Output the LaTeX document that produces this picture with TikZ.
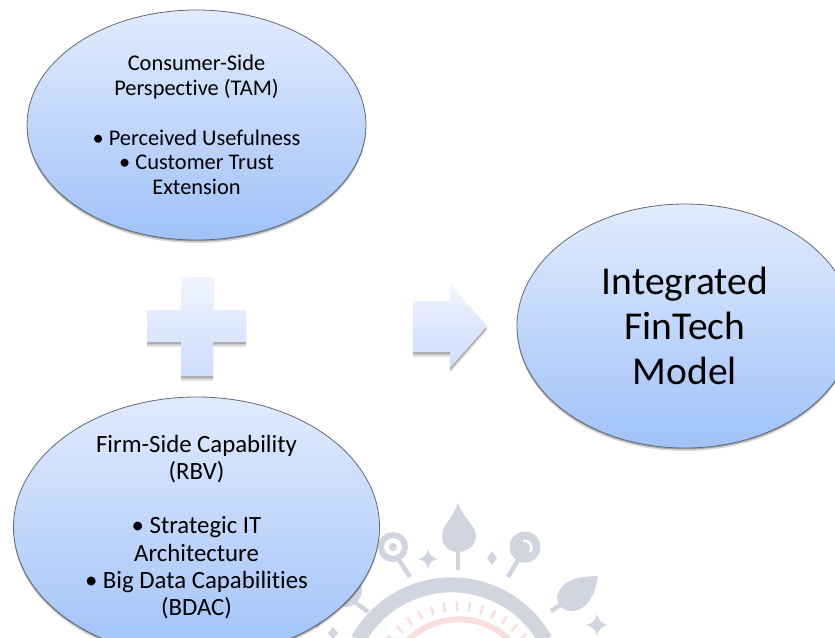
\documentclass[tikz,border=0pt]{standalone}
\usepackage{fontspec}
\setmainfont[Ligatures = NoCommon]{Carlito}
\usetikzlibrary{positioning,shapes.geometric,shadows}
\definecolor{coltop}{RGB}{226,235,253}
\definecolor{colbot}{RGB}{160,194,248}
\definecolor{colsofttop}{RGB}{240,244,254}
\definecolor{colsoftbot}{RGB}{205,221,253}
\definecolor{colline}{RGB}{95,105,120}
\definecolor{colmark}{RGB}{209,213,223}
\definecolor{colpink}{RGB}{250,222,220}
\tikzset{
  bubble/.style={ellipse, draw = colline, line width = 0.8pt, inner sep = 0pt, align = center,
    top color = coltop, bottom color = colbot, text = black,
    drop shadow = {shadow xshift = 0pt, shadow yshift = -3pt, opacity = 0.15, fill = black},
    drop shadow = {shadow xshift = 0pt, shadow yshift = -1.5pt, opacity = 0.25, fill = black}},
  softshape/.style={top color = colsofttop, bottom color = colsoftbot,
    drop shadow = {shadow xshift = 0pt, shadow yshift = -5pt, opacity = 0.08, fill = black},
    drop shadow = {shadow xshift = 0pt, shadow yshift = -3.5pt, opacity = 0.12, fill = black},
    drop shadow = {shadow xshift = 0pt, shadow yshift = -2pt, opacity = 0.18, fill = black}},
  markfill/.style={fill = colmark, draw = none},
  markline/.style={draw = colmark, line width = 4.5pt}
}
\begin{document}
\begin{tikzpicture} [x = 1pt, y = -1pt, node distance = 402pt, on grid]
\useasboundingbox (0,0) rectangle (835,637);
\clip (0,0) rectangle (835,637);
% watermark
\draw [colmark, line width = 15pt] (358,640) arc [start angle = 151, end angle = 29, x radius = 107, y radius = -107];
\draw [colpink, line width = 6pt] (400,650) arc [start angle = 145, end angle = 35, x radius = 72, y radius = -72];
\foreach \a in {32,40.4,...,150}
  \draw [colpink, line width = 2.5pt] (458,692) ++(\a:81 and -81) -- ++(\a:9 and -9);
\path [markfill] (458,503) .. controls (452,520) and (442,525) .. (442,536) .. controls (442,547) and (450,552) .. (458,552) .. controls (466,552) and (476,547) .. (476,536) .. controls (476,525) and (464,520) .. (458,503) -- cycle;
\draw [markline] (458,548) -- (458,570);
\draw [colmark, line width = 6pt] (393,547) circle [radius = 12];
\fill [colmark] (393,547) circle [radius = 4];
\draw [markline] (399,560) -- (410,577);
\fill [colmark] (525,547) circle [radius = 15.5];
\draw [white, line width = 2.5pt] (523,541) .. controls (530,540) and (534,547) .. (530,552);
\draw [markline] (518,560) -- (508,577);
\path [markfill] (598,576) .. controls (575,576) and (560,582) .. (557,597) .. controls (557,604) and (562,611) .. (572,611) .. controls (590,610) and (596,590) .. (598,576) -- cycle;
\draw [markline] (562,604) -- (551,611);
\path [markfill] (345,590) circle [radius = 17];
\draw [markline] (352,600) -- (368,612);
\path [markfill] (428,549) .. controls (429,555) and (432,558) .. (438,559) .. controls (432,560) and (429,563) .. (428,569) .. controls (427,563) and (424,560) .. (418,559) .. controls (424,558) and (427,555) .. (428,549) -- cycle;
\path [markfill] (492,551) -- (497,558) -- (492,565) -- (487,558) -- cycle;
\path [markfill] (597,614) .. controls (598,620) and (602,624) .. (608,625) .. controls (602,626) and (598,630) .. (597,636) .. controls (596,630) and (592,626) .. (586,625) .. controls (592,624) and (596,620) .. (597,614) -- cycle;
\path [markfill] (317,616) -- (322,622) -- (317,628) -- (312,622) -- cycle;
\path [markfill] (333,627) -- (338,633) -- (333,639) -- (328,633) -- cycle;
% bubbles
\node (consumer) [bubble, minimum width = 339pt, minimum height = 230pt, font = \fontsize{22.4}{24.7}\selectfont] at (196.5,125)
  {Consumer-Side\\Perspective (TAM)\\[24.7pt]• Perceived Usefulness\\• Customer Trust\\Extension};
\node (firm) [bubble, below = of consumer, minimum width = 366pt, minimum height = 234pt, font = \fontsize{24.8}{27.2}\selectfont]
  {Firm-Side Capability\\(RBV)\\[27.2pt]• Strategic IT\\Architecture\\• Big Data Capabilities\\(BDAC)};
\node (model) [bubble, minimum width = 336pt, minimum height = 244pt, font = \fontsize{39.5}{44.7}\selectfont] at (685,326)
  {Integrated\\FinTech\\Model};
% plus and arrow
\path [softshape] (181,277) -- (213,277) -- (213,310) -- (246,310) -- (246,342) -- (213,342) -- (213,376) -- (181,376) -- (181,342) -- (147,342) -- (147,310) -- (181,310) -- cycle;
\path [softshape] (413,301) -- (450,301) -- (450,284) -- (487,326) -- (450,368) -- (450,352) -- (413,352) -- cycle;
\end{tikzpicture}
\end{document}
